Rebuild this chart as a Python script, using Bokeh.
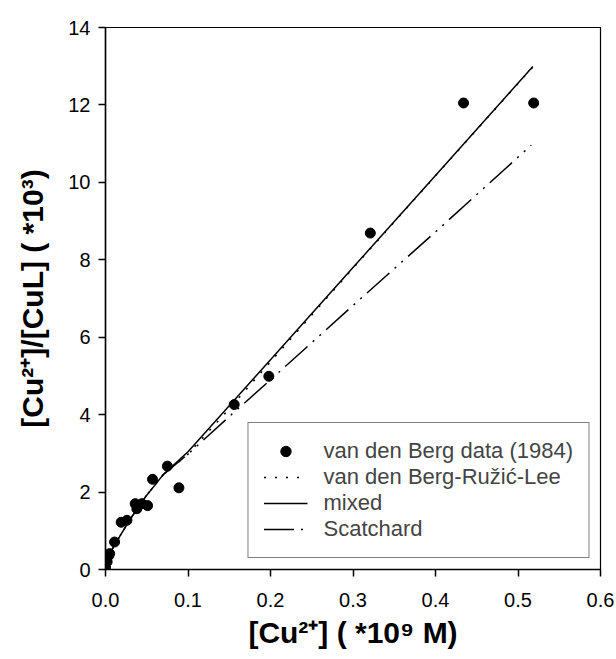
from bokeh.plotting import figure
from bokeh.models import Range1d, FixedTicker, PrintfTickFormatter, Legend, LegendItem
from bokeh.embed import file_html
from bokeh.resources import INLINE

# ---- data ----
data_x = [0.000, 0.002, 0.004, 0.005, 0.011, 0.019, 0.026, 0.036, 0.038, 0.044,
          0.051, 0.057, 0.075, 0.089, 0.156, 0.198, 0.321, 0.434, 0.519]
data_y = [0.06, 0.20, 0.36, 0.41, 0.71, 1.22, 1.27, 1.70, 1.57, 1.70,
          1.65, 2.33, 2.67, 2.11, 4.26, 4.99, 8.69, 12.05, 12.05]

vdbrl_x = [0.0, 0.002, 0.005, 0.01, 0.02, 0.03, 0.04, 0.05, 0.07, 0.10, 0.15, 0.20, 0.30, 0.40, 0.518]
vdbrl_y = [0.0, 0.20, 0.38, 0.60, 0.95, 1.30, 1.62, 1.92, 2.45, 2.98, 4.15, 5.36, 7.78, 10.17, 12.98]

mixed_x = [0.0, 0.002, 0.005, 0.01, 0.02, 0.03, 0.04, 0.05, 0.07, 0.10, 0.15, 0.20, 0.30, 0.40, 0.518]
mixed_y = [0.0, 0.20, 0.38, 0.60, 0.95, 1.30, 1.62, 1.92, 2.45, 3.04, 4.23, 5.42, 7.80, 10.18, 12.99]

scat_x = [0.0, 0.002, 0.005, 0.01, 0.02, 0.03, 0.04, 0.05, 0.07, 0.10, 0.15, 0.20, 0.30, 0.40, 0.516]
scat_y = [0.0, 0.20, 0.38, 0.60, 0.95, 1.30, 1.62, 1.92, 2.45, 2.98, 3.95, 4.90, 6.82, 8.72, 10.96]

x_ticks = [0.0, 0.1, 0.2, 0.3, 0.4, 0.5, 0.6]
y_ticks = [0, 2, 4, 6, 8, 10, 12, 14]

labels = ["van den Berg data (1984)", "van den Berg-Ružić-Lee", "mixed", "Scatchard"]
x_title = "[Cu²⁺] ( *10⁹ M)"
y_title = "[Cu²⁺]/[CuL] ( *10³)"

FONT = "Liberation Sans"

p = figure(width=616, height=659, output_backend="svg", toolbar_location=None,
           x_range=Range1d(0, 0.6), y_range=Range1d(0, 14),
           min_border_left=105, min_border_right=16, min_border_top=27, min_border_bottom=90)

p.xgrid.visible = False
p.ygrid.visible = False
p.outline_line_color = "black"
p.outline_line_width = 1.2
p.background_fill_color = "white"
p.border_fill_color = "white"

r_dot = p.line(vdbrl_x, vdbrl_y, line_color="black", line_width=1.5, line_dash="2 9")
r_mix = p.line(mixed_x, mixed_y, line_color="black", line_width=1.5)
r_sc = p.line(scat_x, scat_y, line_color="black", line_width=1.5, line_dash="30 7 2 7 2 7")
r_pts = p.scatter(data_x, data_y, marker="circle", size=10, fill_color="black", line_color="black")

for ax, ticks in ((p.xaxis[0], x_ticks), (p.yaxis[0], y_ticks)):
    ax.ticker = FixedTicker(ticks=ticks)
    ax.minor_tick_line_color = None
    ax.major_tick_in = 0
    ax.major_tick_out = 7
    ax.axis_line_width = 1.5
    ax.major_tick_line_width = 1.5
    ax.major_label_text_font = FONT
    ax.major_label_text_font_size = "20px"
    ax.major_label_text_color = "black"
    ax.axis_label_text_font = FONT
    ax.axis_label_text_font_style = "bold"
    ax.axis_label_text_font_size = "30px"
    ax.axis_label_text_color = "black"

p.xaxis[0].formatter = PrintfTickFormatter(format="%.1f")
p.yaxis[0].formatter = PrintfTickFormatter(format="%d")
p.xaxis[0].major_label_standoff = 16
p.yaxis[0].major_label_standoff = 8
p.xaxis[0].axis_label = x_title
p.yaxis[0].axis_label = y_title
p.xaxis[0].axis_label_standoff = 6
p.yaxis[0].axis_label_standoff = 16

legend = Legend(items=[LegendItem(label=labels[0], renderers=[r_pts]),
                       LegendItem(label=labels[1], renderers=[r_dot]),
                       LegendItem(label=labels[2], renderers=[r_mix]),
                       LegendItem(label=labels[3], renderers=[r_sc])],
                location="bottom_right", margin=11, padding=15, spacing=0,
                glyph_width=44, glyph_height=26, label_height=26, label_standoff=16,
                label_text_font=FONT, label_text_font_size="22px",
                border_line_color="black", border_line_width=1.5,
                background_fill_color="white", background_fill_alpha=1.0)
p.add_layout(legend)

open("out.html", "w").write(file_html(p, INLINE))
